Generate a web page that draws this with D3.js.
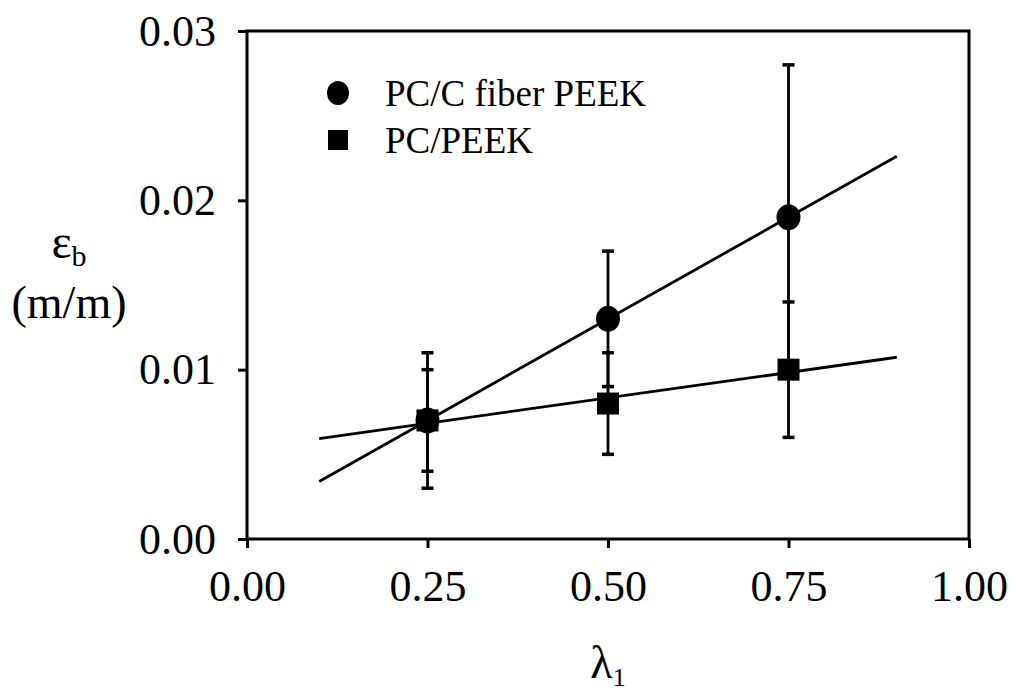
<!DOCTYPE html>
<html>
<head>
<meta charset="utf-8">
<script src="https://cdn.jsdelivr.net/npm/d3@7"></script>
<style>
  body { margin: 0; background: #fff; }
  svg { display: block; font-family: "Liberation Serif", "Times New Roman", serif; }
</style>
</head>
<body>
<div id="chart"></div>
<script>
// values
const lambda = [0.25, 0.50, 0.75];
const fiberStrain = [0.007, 0.013, 0.019];
const fiberErr = [0.004, 0.004, 0.009];
const peekStrain = [0.007, 0.008, 0.010];
const peekErr = [0.003, 0.003, 0.004];
const xTicks = [0, 0.25, 0.5, 0.75, 1.0];
const yTicks = [0, 0.01, 0.02, 0.03];
const fitRange = [0.1, 0.9];

const width = 1016, height = 698;
const margin = { top: 31, right: 47, bottom: 159, left: 247 };

const svg = d3.select('#chart').append('svg')
  .attr('width', width)
  .attr('height', height);

const x = d3.scaleLinear().domain([0, 1]).range([margin.left, width - margin.right]);
const y = d3.scaleLinear().domain([0, 0.03]).range([height - margin.bottom, margin.top]);

// frame
svg.append('rect')
  .attr('x', x(0)).attr('y', y(0.03))
  .attr('width', x(1) - x(0)).attr('height', y(0) - y(0.03))
  .attr('fill', 'none').attr('stroke', '#000').attr('stroke-width', 3);

svg.append('g')
  .attr('transform', `translate(0,${y(0)})`)
  .call(d3.axisBottom(x).tickValues(xTicks).tickFormat(d3.format('.2f')).tickSize(9).tickPadding(22))
  .attr('font-family', null).attr('font-size', 44)
  .call(g => g.select('.domain').remove())
  .call(g => g.selectAll('line').attr('stroke-width', 3));

svg.append('g')
  .attr('transform', `translate(${x(0)},0)`)
  .call(d3.axisLeft(y).tickValues(yTicks).tickFormat(d3.format('.2f')).tickSize(9).tickPadding(22))
  .attr('font-family', null).attr('font-size', 44)
  .call(g => g.select('.domain').remove())
  .call(g => g.selectAll('line').attr('stroke-width', 3));

// least squares fit for each series
function fit(xs, ys) {
  const mx = d3.mean(xs), my = d3.mean(ys);
  const b = d3.sum(xs, (v, i) => (v - mx) * (ys[i] - my)) / d3.sum(xs, v => (v - mx) ** 2);
  return t => my + b * (t - mx);
}

const series = [
  { vals: fiberStrain, err: fiberErr, shape: 'circle' },
  { vals: peekStrain, err: peekErr, shape: 'square' }
];

series.forEach(s => {
  const f = fit(lambda, s.vals);
  svg.append('line')
    .attr('x1', x(fitRange[0])).attr('y1', y(f(fitRange[0])))
    .attr('x2', x(fitRange[1])).attr('y2', y(f(fitRange[1])))
    .attr('stroke', '#000').attr('stroke-width', 2.8);
});

series.forEach(s => {
  const g = svg.append('g');
  lambda.forEach((l, i) => {
    const lo = s.vals[i] - s.err[i], hi = s.vals[i] + s.err[i];
    g.append('line')
      .attr('x1', x(l)).attr('x2', x(l))
      .attr('y1', y(lo)).attr('y2', y(hi))
      .attr('stroke', '#000').attr('stroke-width', 2.8);
    [lo, hi].forEach(v => {
      g.append('line')
        .attr('x1', x(l) - 6).attr('x2', x(l) + 6)
        .attr('y1', y(v)).attr('y2', y(v))
        .attr('stroke', '#000').attr('stroke-width', 3.5);
    });
    if (s.shape === 'circle') {
      g.append('ellipse').attr('cx', x(l)).attr('cy', y(s.vals[i])).attr('rx', 12).attr('ry', 13).attr('fill', '#000');
    } else {
      g.append('rect').attr('x', x(l) - 11).attr('y', y(s.vals[i]) - 11).attr('width', 22).attr('height', 22).attr('fill', '#000');
    }
  });
});

// legend
const legend = svg.append('g');
legend.append('ellipse').attr('cx', 338).attr('cy', 93).attr('rx', 11).attr('ry', 12).attr('fill', '#000');
legend.append('text').attr('x', 385).attr('y', 106).attr('font-size', 37).text('PC/C fiber PEEK');
legend.append('rect').attr('x', 328).attr('y', 130).attr('width', 20).attr('height', 20).attr('fill', '#000');
legend.append('text').attr('x', 385).attr('y', 153).attr('font-size', 37).text('PC/PEEK');

// axis titles
const yt = svg.append('text').attr('x', 69).attr('y', 258).attr('text-anchor', 'middle').attr('font-size', 48);
yt.append('tspan').text('ε');
yt.append('tspan').attr('font-size', 30).attr('dy', 8).text('b');
svg.append('text').attr('x', 69).attr('y', 318).attr('text-anchor', 'middle').attr('font-size', 46).text('(m/m)');

const xt = svg.append('text').attr('x', 608).attr('y', 678).attr('text-anchor', 'middle').attr('font-size', 46);
xt.append('tspan').text('λ');
xt.append('tspan').attr('font-size', 26).attr('dy', 8).text('1');
</script>
</body>
</html>
